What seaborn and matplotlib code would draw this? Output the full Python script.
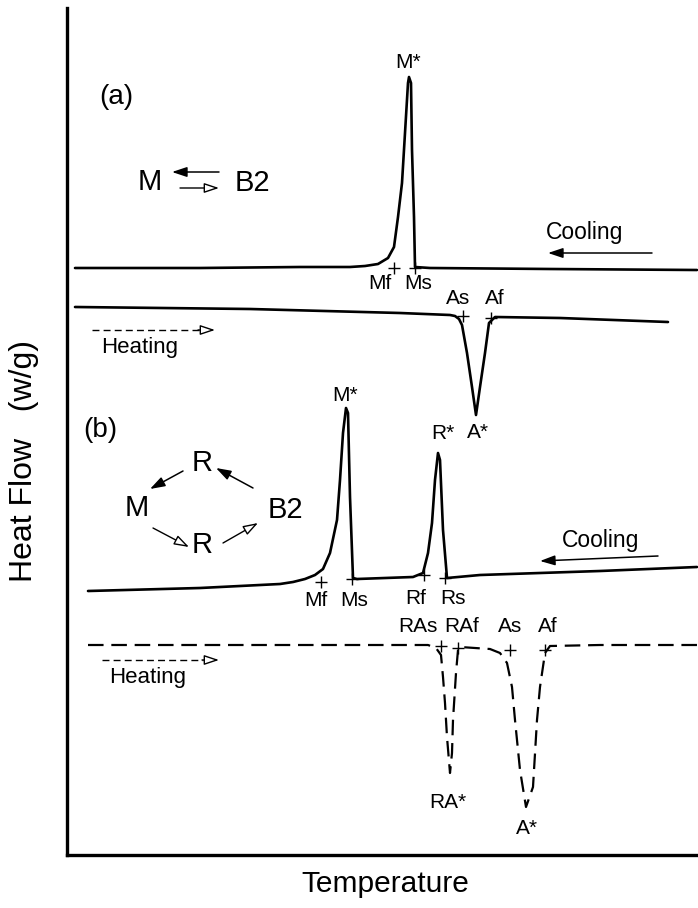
import matplotlib
matplotlib.use("Agg")
import matplotlib.pyplot as plt
import seaborn as sns

# Temperature (x) and heat flow (y), arbitrary units
# (a) cooling: single M peak
cool_a_t = [75, 200, 300, 350, 365, 378, 388, 394, 398, 402, 405, 408, 409, 411, 412, 414, 415, 430, 550, 697]
cool_a_hf = [587, 587, 588, 588, 589, 591, 597, 608, 638, 672, 722, 772, 778, 772, 705, 638, 588, 587, 586, 585]

# (a) heating: single A trough
heat_a_t = [75, 250, 400, 450, 455, 459, 462, 467, 472, 476, 480, 485, 489, 495, 560, 668]
heat_a_hf = [548, 546, 542, 540, 539, 536, 530, 502, 468, 440, 468, 502, 532, 538, 537, 533]

# (b) cooling: M peak and R peak
cool_b_t = [88, 200, 280, 293, 305, 315, 323, 330, 337, 340, 343, 346, 348, 350, 353, 357, 413,
            423, 428, 432, 435, 438, 440, 443, 447, 480, 600, 697]
cool_b_hf = [264, 267, 271, 273, 276, 280, 286, 302, 335, 375, 422, 447, 442, 358, 277, 276, 278,
             282, 302, 332, 375, 402, 395, 325, 277, 280, 284, 288]

# (b) heating (dashed): RA trough and A trough
heat_b_t = [88, 300, 428, 436, 441, 443, 445, 447, 450, 452, 453, 456, 458, 460, 490, 500,
            507, 512, 515, 520, 526, 533, 537, 540, 545, 550, 600, 697]
heat_b_hf = [210, 210, 210, 207, 200, 178, 152, 118, 82, 102, 135, 182, 205, 208, 206, 202,
             192, 168, 135, 85, 48, 68, 135, 168, 202, 209, 210, 210]

# start / finish temperatures (tick crosses) and their labels
a_marks_t = [394, 415, 463, 491]
a_marks_hf = [587, 587, 539, 537]
b_marks_t = [321, 352, 424, 445, 441, 458, 510, 545]
b_marks_hf = [273, 276, 280, 277, 209, 207, 205, 205]

labels = ["M*", "Mf", "Ms", "As", "Af", "A*",
          "M*", "R*", "Mf", "Ms", "Rf", "Rs", "RAs", "RAf", "As", "Af", "RA*", "A*"]
labels_t = [408, 380, 418, 458, 495, 478,
            345, 443, 316, 354, 416, 453, 418, 462, 510, 548, 448, 527]
labels_hf = [793, 572, 572, 557, 557, 423,
             460, 422, 255, 255, 257, 257, 228, 228, 228, 228, 53, 27]


def main():
    sns.set_style("white")
    plt.rcParams["font.family"] = ["Liberation Sans", "DejaVu Sans"]
    plt.rcParams["text.color"] = "black"
    plt.rcParams["axes.labelcolor"] = "black"

    fig = plt.figure(figsize=(6.98, 9.08), dpi=100)
    ax = fig.add_axes([67 / 698, 53 / 908, 631 / 698, 847 / 908])

    kw = dict(color="black", sort=False, estimator=None, legend=False, ax=ax)
    sns.lineplot(x=cool_a_t, y=cool_a_hf, lw=1.9, **kw)
    sns.lineplot(x=heat_a_t, y=heat_a_hf, lw=1.9, **kw)
    sns.lineplot(x=cool_b_t, y=cool_b_hf, lw=1.9, **kw)
    sns.lineplot(x=heat_b_t, y=heat_b_hf, lw=1.6, **kw)
    ax.lines[-1].set_dashes([7, 3.5])

    sns.scatterplot(x=a_marks_t + b_marks_t, y=a_marks_hf + b_marks_hf, marker="+",
                    s=70, linewidth=1.0, color="black", legend=False, ax=ax)

    for txt, t, hf in zip(labels, labels_t, labels_hf):
        ax.text(t, hf, txt, fontsize=15, ha="center", va="center")

    # panel tags, reaction schemes and direction notes
    big = dict(fontsize=20, ha="center", va="center")
    ax.text(116, 758, "(a)", **big)
    ax.text(100, 425, "(b)", **big)
    ax.text(150, 673, "M", fontsize=21, ha="center", va="center")
    ax.text(252, 672, "B2", fontsize=21, ha="center", va="center")
    for txt, t, hf in [("R", 202, 392), ("M", 137, 347), ("B2", 285, 345), ("R", 202, 310)]:
        ax.text(t, hf, txt, fontsize=21, ha="center", va="center")
    ax.text(585, 623, "Cooling", fontsize=16.5, ha="center", va="center")
    ax.text(601, 315, "Cooling", fontsize=16.5, ha="center", va="center")
    ax.text(140, 508, "Heating", fontsize=16, ha="center", va="center")
    ax.text(148, 178, "Heating", fontsize=16, ha="center", va="center")

    filled = dict(arrowstyle="-|>,head_length=0.9,head_width=0.3", color="black", lw=1.1,
                  shrinkA=0, shrinkB=0)
    hollow = dict(arrowstyle="-|>,head_length=0.9,head_width=0.3", fc="white", ec="black",
                  lw=1.0, shrinkA=0, shrinkB=0)
    for (t0, h0), (t1, h1) in [((652, 602), (548, 602)), ((658, 299), (540, 294)),
                               ((219, 683), (172, 683)), ((183, 384), (150, 366)),
                               ((253, 367), (216, 387))]:
        ax.annotate("", xy=(t1, h1), xytext=(t0, h0), arrowprops=filled)
    for (t0, h0), (t1, h1) in [((180, 667), (219, 667)), ((153, 327), (189, 308)),
                               ((223, 312), (258, 332))]:
        ax.annotate("", xy=(t1, h1), xytext=(t0, h0), arrowprops=hollow)
    # dashed heating arrows with open heads
    for t0, t1, hf in [(92, 215, 525), (102, 219, 195)]:
        ax.plot([t0, t1 - 16], [hf, hf], color="black", lw=1.0, dashes=[5, 3])
        ax.annotate("", xy=(t1, hf), xytext=(t1 - 17, hf), arrowprops=hollow)

    ax.set_xlim(67, 698)
    ax.set_ylim(0, 847)
    ax.set_xticks([])
    ax.set_yticks([])
    sns.despine(ax=ax)
    for side in ["left", "bottom"]:
        ax.spines[side].set_linewidth(2.4)
        ax.spines[side].set_color("black")

    ax.set_xlabel("Temperature", fontsize=21.5)
    ax.xaxis.set_label_coords(0.505, -0.018)
    ax.xaxis.label.set_va("top")
    ax.set_ylabel("Heat Flow   (w/g)", fontsize=23)
    ax.yaxis.set_label_coords(-0.044, 0.465)

    fig.savefig("out.png", dpi=100)


if __name__ == "__main__":
    main()
